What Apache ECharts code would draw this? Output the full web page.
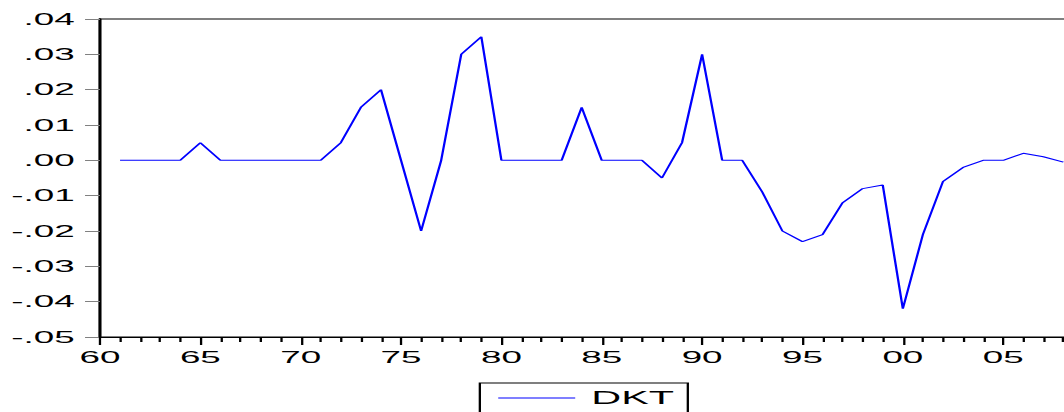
<!DOCTYPE html>
<html>
<head>
<meta charset="utf-8">
<script src="https://cdn.jsdelivr.net/npm/echarts@6/dist/echarts.min.js"></script>
<style>
html,body{margin:0;padding:0;overflow:hidden;background:#fff;width:1064px;height:412px;}
#wrap{width:1064px;height:412px;overflow:hidden;position:relative;}
#chart{width:463px;height:412px;transform:scaleX(2.2981);transform-origin:0 0;position:absolute;left:0;top:0;}
</style>
</head>
<body>
<div id="wrap"><div id="chart"></div></div>
<script>
const years = [1961,1962,1963,1964,1965,1966,1967,1968,1969,1970,
  1971,1972,1973,1974,1975,1976,1977,1978,1979,1980,
  1981,1982,1983,1984,1985,1986,1987,1988,1989,1990,
  1991,1992,1993,1994,1995,1996,1997,1998,1999,2000,
  2001,2002,2003,2004,2005,2006,2007,2008];
const dkt = [0,0,0,0,0.005,0,0,0,0,0,
  0,0.005,0.015,0.020,0.000,-0.020,0.000,0.030,0.035,0,
  0,0,0,0.015,0,0,0,-0.005,0.005,0.030,
  0,0,-0.009,-0.020,-0.023,-0.021,-0.012,-0.008,-0.007,-0.042,
  -0.021,-0.006,-0.002,0,0,0.002,0.001,-0.0005];
const seriesName = 'DKT';

const FONT = "'Liberation Sans', Arial, sans-serif";
const chart = echarts.init(document.getElementById('chart'), null, {renderer: 'svg', width: 463, height: 412});
chart.setOption({
  animation: false,
  backgroundColor: '#ffffff',
  grid: {
    left: 43.5, top: 19, width: 436.7, height: 318,
    outerBoundsMode: 'none', containLabel: false,
    show: true, borderColor: '#000000', borderWidth: 1, backgroundColor: 'transparent'
  },
  legend: {
    data: [seriesName],
    left: 208.8, top: 383,
    padding: [6, 6, 20, 8],
    borderColor: '#000000', borderWidth: 1,
    icon: 'rect',
    itemWidth: 33.5, itemHeight: 1, itemGap: 10,
    textStyle: {fontFamily: FONT, fontSize: 18, color: '#000000', padding: [0, 0, 0, 2]}
  },
  xAxis: {
    type: 'value', min: 1960, max: 2010, interval: 5,
    axisLine: {show: true, onZero: false, lineStyle: {color: '#000000', width: 1}},
    axisTick: {show: true, inside: false, length: 8, lineStyle: {color: '#000000', width: 1}},
    minorTick: {show: true, splitNumber: 5, length: 5, lineStyle: {color: '#000000', width: 1}},
    splitLine: {show: false},
    axisLabel: {
      margin: 12, fontFamily: FONT, fontSize: 16, color: '#000000',
      showMaxLabel: false,
      formatter: v => v >= 2010 ? '' : String(Math.round(v) % 100).padStart(2, '0')
    }
  },
  yAxis: {
    type: 'value', min: -0.05, max: 0.04, interval: 0.01,
    axisLine: {show: true, onZero: false, lineStyle: {color: '#000000', width: 1.3}},
    axisTick: {show: true, inside: false, length: 6.5, lineStyle: {color: '#808080', width: 1}},
    splitLine: {show: false},
    axisLabel: {
      margin: 11, fontFamily: FONT, fontSize: 16, color: '#000000',
      formatter: v => v.toFixed(2).replace('0.', '.')
    }
  },
  series: [{
    name: seriesName,
    type: 'line',
    data: years.map((y, i) => [y, dkt[i]]),
    symbol: 'none',
    lineStyle: {color: '#0000ff', width: 1},
    itemStyle: {color: '#0000ff'}
  }]
});
</script>
</body>
</html>
